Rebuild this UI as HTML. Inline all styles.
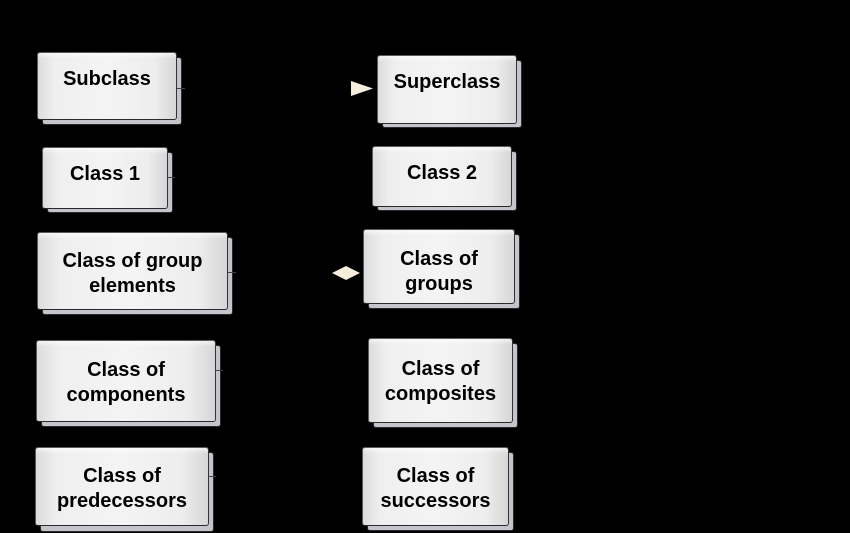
<!DOCTYPE html>
<html>
<head>
<meta charset="utf-8">
<style>
html,body{margin:0;padding:0;background:#000;}
body{width:850px;height:533px;position:relative;overflow:hidden;font-family:"Liberation Sans",Arial,sans-serif;}
.sh{position:absolute;background:#c4c4cc;border:1px solid #2a2a2a;border-radius:3px;box-sizing:border-box;}
.fr{position:absolute;box-sizing:border-box;border:1px solid #5a5a5a;border-right-color:#333;border-bottom-color:#2a2a2a;border-radius:3px;
background:linear-gradient(to right,#dcdcdc 0%,#efefef 12%,#f4f4f4 50%,#ededed 85%,#d6d6d6 100%);}
.fr::before{content:"";position:absolute;left:0;right:0;top:0;height:6px;background:linear-gradient(#ffffff,rgba(255,255,255,0));border-radius:3px 3px 0 0;opacity:.6;}
.t{position:absolute;left:0;right:0;text-align:center;font-weight:bold;font-size:20px;line-height:25px;color:#000;white-space:nowrap;}
.stub{position:absolute;height:1px;background:#444;}
</style>
</head>
<body>

<!-- Subclass -->
<div class="sh" style="left:42px;top:57px;width:140px;height:68px;"></div>
<div class="fr" style="left:37px;top:52px;width:140px;height:68px;"><div class="t" style="top:14px;">Subclass</div></div>
<div class="stub" style="left:177px;top:88px;width:8px;"></div>

<!-- Superclass -->
<div class="sh" style="left:382px;top:60px;width:140px;height:68px;"></div>
<div class="fr" style="left:377px;top:55px;width:140px;height:69px;"><div class="t" style="top:14px;">Superclass</div></div>
<svg style="position:absolute;left:0;top:0" width="850" height="533">
<polygon points="351,81 373,88.5 351,96" fill="#f6eedb"/>
<polygon points="332,273 346,266 360,273 346,280" fill="#f6eedb"/>
</svg>

<!-- Class 1 -->
<div class="sh" style="left:47px;top:152px;width:126px;height:61px;"></div>
<div class="fr" style="left:42px;top:147px;width:126px;height:62px;"><div class="t" style="top:14px;">Class 1</div></div>
<div class="stub" style="left:167px;top:177px;width:8px;"></div>

<!-- Class 2 -->
<div class="sh" style="left:377px;top:151px;width:140px;height:60px;"></div>
<div class="fr" style="left:372px;top:146px;width:140px;height:61px;"><div class="t" style="top:14px;">Class 2</div></div>

<!-- Class of group elements -->
<div class="sh" style="left:42px;top:237px;width:191px;height:78px;"></div>
<div class="fr" style="left:37px;top:232px;width:191px;height:78px;"><div class="t" style="top:16px;">Class of group<br>elements</div></div>
<div class="stub" style="left:228px;top:272px;width:8px;"></div>

<!-- Class of groups -->
<div class="sh" style="left:368px;top:234px;width:152px;height:75px;"></div>
<div class="fr" style="left:363px;top:229px;width:152px;height:75px;"><div class="t" style="top:17px;">Class of<br>groups</div></div>

<!-- Class of components -->
<div class="sh" style="left:41px;top:345px;width:180px;height:82px;"></div>
<div class="fr" style="left:36px;top:340px;width:180px;height:82px;"><div class="t" style="top:17px;">Class of<br>components</div></div>
<div class="stub" style="left:215px;top:370px;width:8px;"></div>

<!-- Class of composites -->
<div class="sh" style="left:373px;top:343px;width:145px;height:85px;"></div>
<div class="fr" style="left:368px;top:338px;width:145px;height:85px;"><div class="t" style="top:18px;">Class of<br>composites</div></div>

<!-- Class of predecessors -->
<div class="sh" style="left:40px;top:452px;width:174px;height:80px;"></div>
<div class="fr" style="left:35px;top:447px;width:174px;height:79px;"><div class="t" style="top:16px;">Class of<br>predecessors</div></div>
<div class="stub" style="left:208px;top:476px;width:8px;"></div>

<!-- Class of successors -->
<div class="sh" style="left:367px;top:452px;width:147px;height:79px;"></div>
<div class="fr" style="left:362px;top:447px;width:147px;height:79px;"><div class="t" style="top:16px;">Class of<br>successors</div></div>

</body>
</html>
